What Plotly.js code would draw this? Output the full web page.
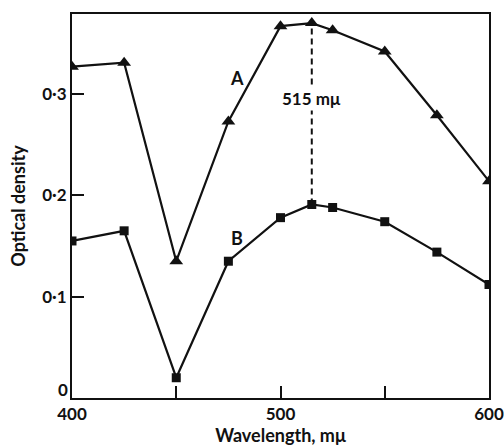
<!DOCTYPE html>
<html><head><meta charset="utf-8">
<script src="https://cdn.plot.ly/plotly-3.0.1.min.js"></script>
<style>html,body{margin:0;padding:0;background:#fff}#c{width:504px;height:447px}</style>
</head><body><div id="c"></div>
<script>
const wavelength = [400, 425, 450, 475, 500, 515, 525, 550, 575, 600];
const seriesA = [0.327, 0.331, 0.135, 0.273, 0.367, 0.370, 0.363, 0.342, 0.279, 0.214];
const seriesB = [0.155, 0.165, 0.020, 0.135, 0.178, 0.191, 0.188, 0.174, 0.144, 0.112];
const xTickVals = [400, 450, 500, 550, 600];
const xTickText = ["400", "", "500", "", "600"];
const yTickVals = [0, 0.1, 0.2, 0.3];
const yTickText = ["0", "0·1", "0·2", "0·3"];
const peakWavelength = 515;

const FONT = "Lato, 'Open Sans', sans-serif";
const W = "bold";
const pk = wavelength.indexOf(peakWavelength);

const traces = [
  {x: wavelength, y: seriesA, mode: "lines+markers", line: {color: "#111", width: 2.2},
   marker: {symbol: "triangle-up", size: 12, color: "#111"}, hoverinfo: "skip"},
  {x: wavelength, y: seriesB, mode: "lines+markers", line: {color: "#111", width: 2.2},
   marker: {symbol: "square", size: 9, color: "#111"}, hoverinfo: "skip"},
  {x: [wavelength[pk], wavelength[pk]], y: [seriesB[pk], seriesA[pk]], mode: "lines",
   line: {color: "#111", width: 2, dash: "6px,4px"}, hoverinfo: "skip"}
];

const layout = {
  width: 504, height: 447,
  margin: {l: 72, r: 15, t: 14, b: 49},
  paper_bgcolor: "#fff", plot_bgcolor: "#fff",
  showlegend: false,
  font: {family: FONT, color: "#111", size: 18, weight: W},
  xaxis: {
    range: [400, 600], tickvals: xTickVals, ticktext: xTickText,
    ticks: "inside", ticklen: 12, tickwidth: 2, tickcolor: "#111",
    showline: true, linewidth: 2, linecolor: "#111", mirror: true,
    showgrid: false, zeroline: false, automargin: false,
    ticklabeloverflow: "allow",
    tickfont: {family: FONT, size: 17, color: "#111", weight: W},
    title: {text: "Wavelength, mμ", font: {family: FONT, size: 18, color: "#111", weight: W}, standoff: 2}
  },
  yaxis: {
    range: [0, 0.379], tickvals: yTickVals.slice(1), ticktext: yTickText.slice(1),
    ticks: "inside", ticklen: 12, tickwidth: 2, tickcolor: "#111",
    showline: true, linewidth: 2, linecolor: "#111", mirror: true,
    showgrid: false, zeroline: false, automargin: false,
    tickfont: {family: FONT, size: 17, color: "#111", weight: W},
    title: {text: "Optical density", font: {family: FONT, size: 18, color: "#111", weight: W}, standoff: 12}
  },
  annotations: [
    {xref: "paper", x: 0, y: yTickVals[0], text: yTickText[0], showarrow: false,
     xanchor: "right", yanchor: "bottom", xshift: -2, yshift: -4,
     font: {family: FONT, size: 17, color: "#111", weight: W}},
    {x: 479, y: 0.316, text: "A", showarrow: false, font: {family: FONT, size: 18, color: "#111", weight: W}},
    {x: 479, y: 0.158, text: "B", showarrow: false, font: {family: FONT, size: 18, color: "#111", weight: W}},
    {x: peakWavelength, y: 0.296, text: "515 mμ", showarrow: false, bgcolor: "#fff",
     font: {family: FONT, size: 17, color: "#111", weight: W}}
  ]
};

Plotly.newPlot("c", traces, layout, {displayModeBar: false, staticPlot: true});
</script></body></html>
